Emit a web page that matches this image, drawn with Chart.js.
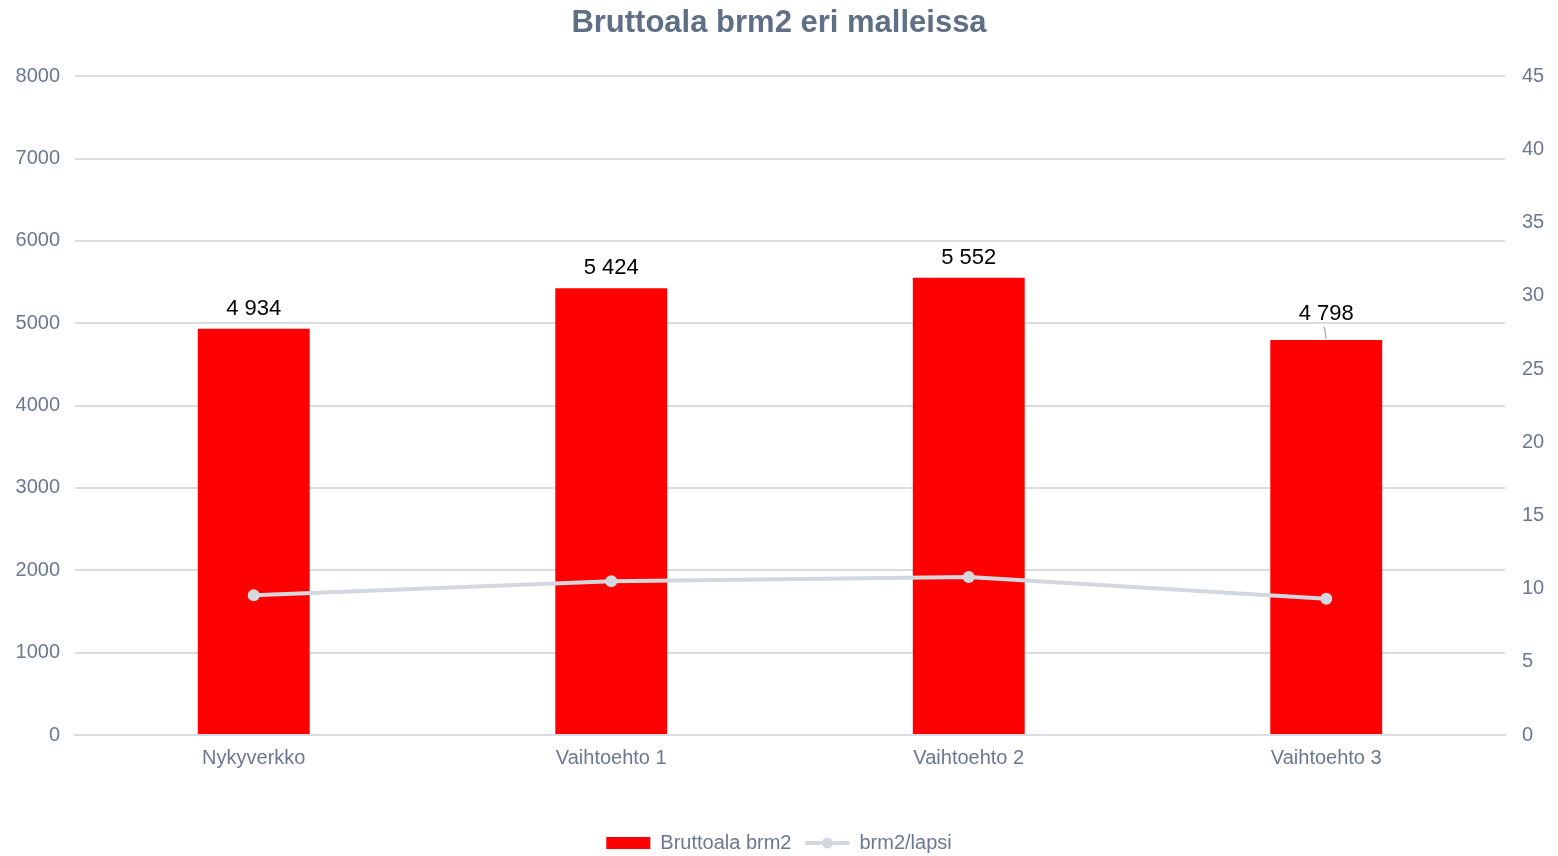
<!DOCTYPE html>
<html>
<head>
<meta charset="utf-8">
<script src="https://cdn.jsdelivr.net/npm/chart.js@4/dist/chart.umd.min.js"></script>
<style>
  body { margin: 0; background: #fff; }
  #wrap { width: 1558px; height: 856px; }
</style>
</head>
<body>
<div id="wrap"><canvas id="chart"></canvas></div>
<script>
const categories = ["Nykyverkko", "Vaihtoehto 1", "Vaihtoehto 2", "Vaihtoehto 3"];
const bruttoala = [4934, 5424, 5552, 4798];
const perLapsi = [9.55, 10.5, 10.8, 9.3];
const leftTicks = [0, 8000, 1000];
const rightTicks = [0, 45, 5];

const FONT = "'Liberation Sans', Arial, sans-serif";
const textColor = "#6b7890";
const gridColor = "#d9dde3";
const lineColor = "#d3d8df";

function spaced(v) {
  return String(v).replace(/\B(?=(\d{3})+(?!\d))/g, " ");
}

// bar value labels + legend marker dot
const extras = {
  id: "extras",
  afterDatasetsDraw(chart) {
    const ctx = chart.ctx;
    const meta = chart.getDatasetMeta(1);
    ctx.save();
    ctx.font = "22px " + FONT;
    ctx.fillStyle = "#000";
    ctx.textAlign = "center";
    ctx.textBaseline = "middle";
    meta.data.forEach((bar, i) => {
      let off = 20;
      if (i === 3) {
        off = 26;
        ctx.strokeStyle = "#a8b4c4";
        ctx.lineWidth = 1.5;
        ctx.beginPath();
        ctx.moveTo(bar.x - 2, bar.y - 13);
        ctx.lineTo(bar.x, bar.y - 1);
        ctx.stroke();
      }
      ctx.fillText(spaced(bruttoala[i]), bar.x, bar.y - off);
    });
    ctx.restore();
  },
  afterDraw(chart) {
    const lg = chart.legend;
    if (!lg || !lg.legendHitBoxes) return;
    const idx = lg.legendItems.findIndex(it => it.text === "brm2/lapsi");
    const hb = lg.legendHitBoxes[idx];
    if (!hb) return;
    const ctx = chart.ctx;
    ctx.save();
    ctx.fillStyle = lineColor;
    ctx.beginPath();
    ctx.arc(hb.left + 22, hb.top + hb.height / 2, 5.5, 0, Math.PI * 2);
    ctx.fill();
    ctx.restore();
  }
};

new Chart(document.getElementById("chart").getContext("2d"), {
  data: {
    labels: categories,
    datasets: [
      {
        type: "line",
        label: "brm2/lapsi",
        data: perLapsi,
        yAxisID: "y2",
        borderColor: lineColor,
        backgroundColor: lineColor,
        borderWidth: 4,
        pointRadius: 6,
        pointHoverRadius: 6,
        pointBackgroundColor: lineColor,
        pointBorderWidth: 0,
        tension: 0,
        order: 0
      },
      {
        type: "bar",
        label: "Bruttoala brm2",
        data: bruttoala,
        yAxisID: "y",
        backgroundColor: "#ff0000",
        barPercentage: 0.313,
        categoryPercentage: 1,
        order: 1
      }
    ]
  },
  plugins: [extras],
  options: {
    responsive: true,
    maintainAspectRatio: false,
    animation: false,
    layout: { padding: { top: 2, left: 0, right: 0, bottom: -7 } },
    plugins: {
      title: {
        display: true,
        text: "Bruttoala brm2 eri malleissa",
        color: "#5f6f86",
        font: { size: 31, weight: "bold", family: FONT },
        padding: { top: 3, bottom: 34 }
      },
      legend: {
        position: "bottom",
        reverse: true,
        labels: {
          color: textColor,
          usePointStyle: true,
          pointStyleWidth: 44,
          boxHeight: 12,
          padding: 14,
          font: { size: 20, family: FONT },
          generateLabels(chart) {
            const items = Chart.defaults.plugins.legend.labels.generateLabels(chart);
            items.forEach(it => {
              if (it.text === "brm2/lapsi") {
                it.pointStyle = "line";
                it.lineWidth = 4;
                it.strokeStyle = lineColor;
              } else {
                it.pointStyle = "rect";
                it.lineWidth = 0;
              }
            });
            return items;
          }
        }
      },
      tooltip: { enabled: false }
    },
    scales: {
      x: {
        grid: { display: false },
        border: { color: gridColor, width: 2 },
        ticks: {
          color: textColor,
          padding: 3,
          font: { size: 20, family: FONT }
        },
        afterFit(s) { s.height = 84; }
      },
      y: {
        position: "left",
        min: leftTicks[0],
        max: leftTicks[1],
        ticks: {
          stepSize: leftTicks[2],
          color: textColor,
          padding: 15,
          font: { size: 20, family: FONT },
          callback: v => String(v)
        },
        grid: { color: gridColor, lineWidth: 2, drawTicks: false },
        border: { display: false },
        afterFit(s) { s.width = 75; }
      },
      y2: {
        position: "right",
        min: rightTicks[0],
        max: rightTicks[1],
        ticks: {
          stepSize: rightTicks[2],
          color: textColor,
          padding: 17,
          font: { size: 20, family: FONT }
        },
        grid: { display: false, drawTicks: false },
        border: { display: false },
        afterFit(s) { s.width = 53; }
      }
    }
  }
});
</script>
</body>
</html>
